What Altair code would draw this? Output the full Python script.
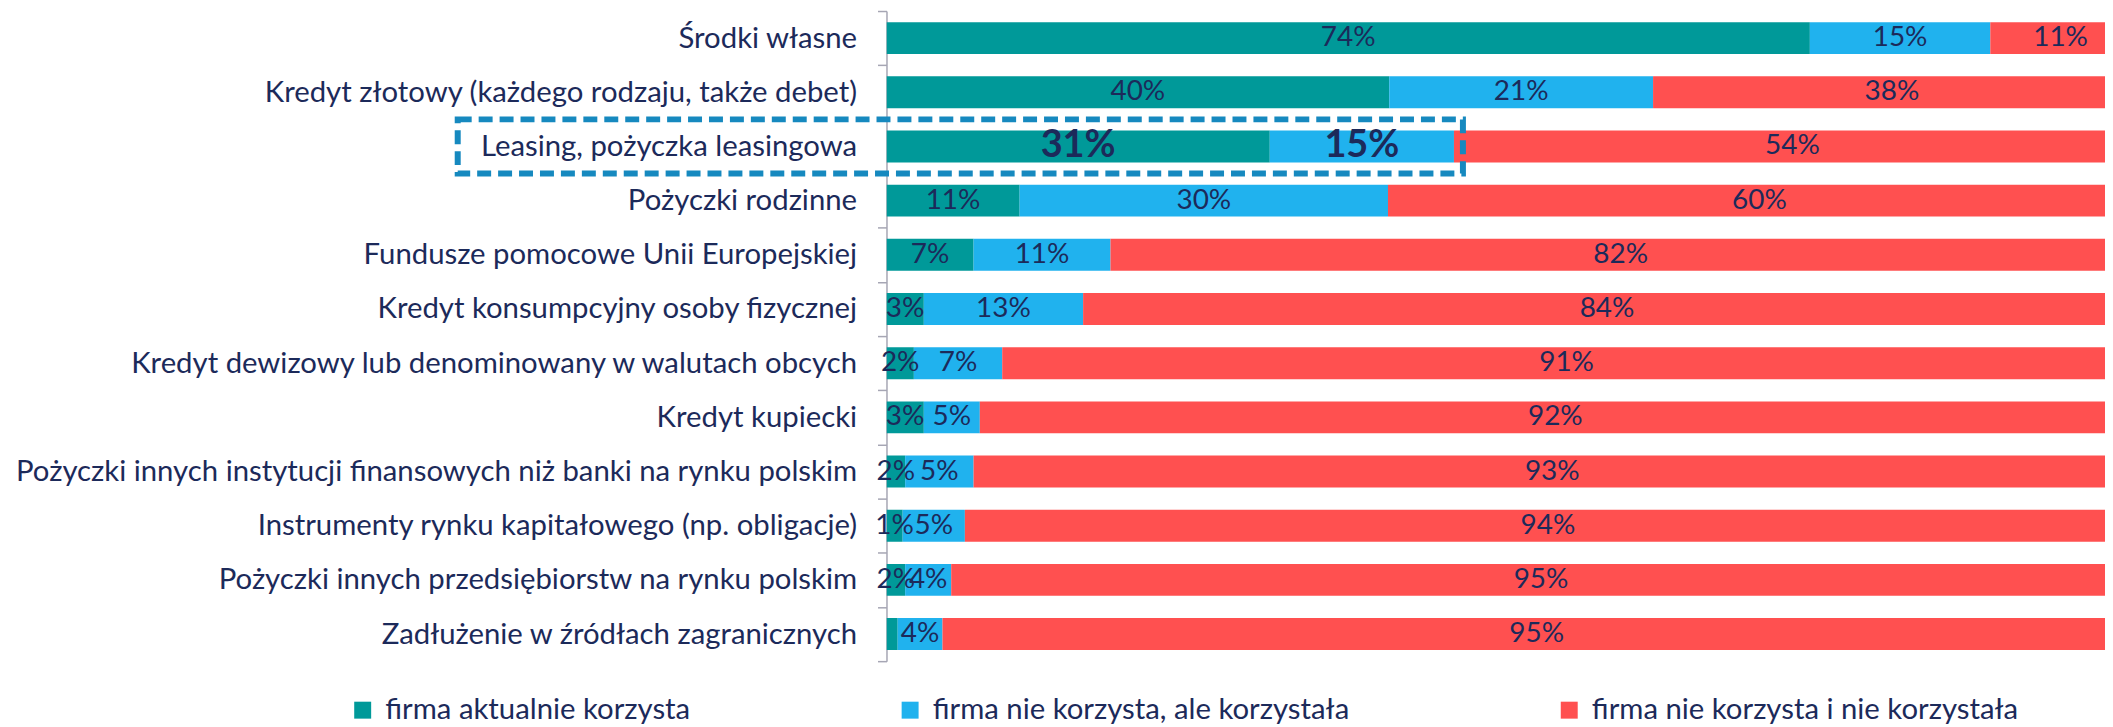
import altair as alt
import pandas as pd

# ---------------- data ----------------
categories = [
    "Środki własne",
    "Kredyt złotowy (każdego rodzaju, także debet)",
    "Leasing, pożyczka leasingowa",
    "Pożyczki rodzinne",
    "Fundusze pomocowe Unii Europejskiej",
    "Kredyt konsumpcyjny osoby fizycznej",
    "Kredyt dewizowy lub denominowany w walutach obcych",
    "Kredyt kupiecki",
    "Pożyczki innych instytucji finansowych niż banki na rynku polskim",
    "Instrumenty rynku kapitałowego (np. obligacje)",
    "Pożyczki innych przedsiębiorstw na rynku polskim",
    "Zadłużenie w źródłach zagranicznych",
]
series = [
    "firma aktualnie korzysta",
    "firma nie korzysta, ale korzystała",
    "firma nie korzysta i nie korzystała",
]
teal_vals = [74.2, 40.4, 30.8, 10.7, 7.0, 3.0, 2.2, 3.0, 1.5, 1.3, 1.5, 0.9]
blue_vals = [14.5, 21.2, 14.8, 29.6, 11.0, 12.8, 7.1, 4.5, 5.5, 5.0, 3.7, 3.6]
red_vals = [11.3, 38.4, 54.4, 59.7, 82.0, 84.2, 90.7, 92.5, 93.0, 93.7, 94.8, 95.5]
teal_labels = ["74%", "40%", "31%", "11%", "7%", "3%", "2%", "3%", "2%", "1%", "2%", ""]
blue_labels = ["15%", "21%", "15%", "30%", "11%", "13%", "7%", "5%", "5%", "5%", "4%", "4%"]
red_labels = ["11%", "38%", "54%", "60%", "82%", "84%", "91%", "92%", "93%", "94%", "95%", "95%"]
highlight = "Leasing, pożyczka leasingowa"

colors = ["#009999", "#20B2EE", "#FF5050"]
TXT = "#1C2A5A"
AXIS_GRAY = "#A6A6B4"
BOX = "#1689BF"

FONT = "Lato, sans-serif"
FS_AXIS = 29.4
FS_BAR = 28
FS_BOLD = 38

# ---------------- long table ----------------
rows = []
for i, cat in enumerate(categories):
    vals = [teal_vals[i], blue_vals[i], red_vals[i]]
    labs = [teal_labels[i], blue_labels[i], red_labels[i]]
    tot = sum(vals)
    acc = 0.0
    for k in range(3):
        s = acc / tot
        acc += vals[k]
        e = acc / tot
        rows.append({
            "cat": cat, "series": series[k], "order": k,
            "start": s, "end": e, "mid": (s + e) / 2,
            "label": labs[k],
            "emph": bool(cat == highlight and k < 2),
        })
df = pd.DataFrame(rows)
hl_idx = categories.index(highlight)
box_df = pd.DataFrame([{
    "cat": highlight,
    "xstart": 0.0,
    "xend": (teal_vals[hl_idx] + blue_vals[hl_idx])
    / (teal_vals[hl_idx] + blue_vals[hl_idx] + red_vals[hl_idx]),
}])

FULL_W = 1248
PLOT_W = 1222
xscale = alt.Scale(domain=[0, PLOT_W / FULL_W], nice=False, zero=True)
yenc_axis = alt.Y(
    "cat:N", sort=categories,
    scale=alt.Scale(paddingInner=0, paddingOuter=0),
    axis=alt.Axis(
        title=None, tickBand="extent", tickSize=9, tickColor=AXIS_GRAY,
        tickWidth=1.5, domainColor=AXIS_GRAY, domainWidth=1.5,
        labelFontSize=FS_AXIS, labelFont=FONT, labelColor=TXT, labelLimit=1200,
        labelPadding=21, grid=False,
    ),
)
yenc = alt.Y("cat:N", sort=categories)

bars = alt.Chart(df).mark_bar(size=32, clip=True).encode(
    y=yenc_axis,
    x=alt.X("start:Q", scale=xscale, axis=None),
    x2="end:Q",
    color=alt.Color(
        "series:N", sort=series,
        scale=alt.Scale(domain=series, range=colors),
        legend=alt.Legend(
            title=None, orient="none", legendX=-540, legendY=686,
            direction="horizontal", columns=3, columnPadding=205,
            symbolType="square", symbolSize=289, symbolStrokeWidth=0,
            labelFontSize=FS_AXIS, labelFont=FONT, labelColor=TXT,
            labelLimit=1200, labelOffset=8,
        ),
    ),
)

labels_normal = alt.Chart(df).transform_filter(
    "datum.label != '' && !datum.emph"
).mark_text(fontSize=FS_BAR, font=FONT, color=TXT, align="center",
            baseline="middle").encode(
    y=yenc, x=alt.X("mid:Q"), text="label:N",
)

labels_bold = alt.Chart(df).transform_filter(
    "datum.label != '' && datum.emph"
).mark_text(fontSize=FS_BOLD, font=FONT, fontWeight="bold", color=TXT,
            align="center", baseline="middle").encode(
    y=yenc, x=alt.X("mid:Q"), text="label:N",
)

box = alt.Chart(box_df).mark_rect(
    fillOpacity=0, stroke=BOX, strokeWidth=6, strokeDash=[14, 7],
    xOffset=-430, x2Offset=9,
).encode(
    y=yenc, x=alt.X("xstart:Q"), x2="xend:Q",
)

chart = alt.layer(bars, labels_normal, labels_bold, box).properties(
    width=PLOT_W, height=652,
    autosize=alt.AutoSizeParams(type="none"),
    padding={"left": 881, "top": 2, "right": 0, "bottom": 65},
    background="white",
).configure_view(strokeWidth=0)

chart.save("out.html", embed_options={"renderer": "svg", "actions": False})
